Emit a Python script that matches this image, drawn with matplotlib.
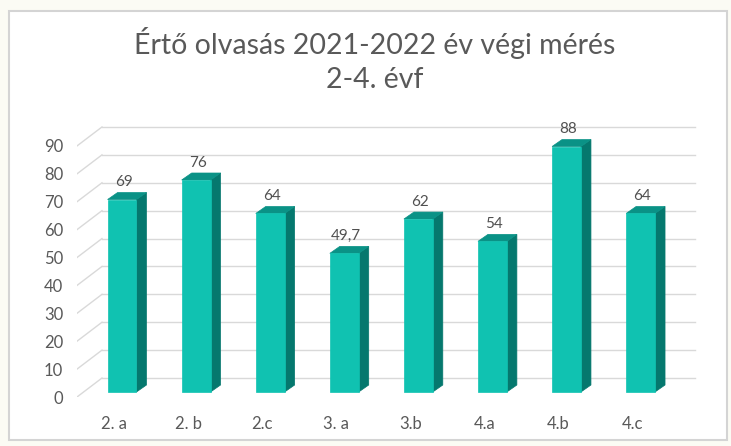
import matplotlib.pyplot as plt
from matplotlib.patches import Polygon, Rectangle

categories = ['2. a', '2. b', '2.c', '3. a', '3.b', '4.a', '4.b', '4.c']
values = [69, 76, 64, 49.7, 62, 54, 88, 64]
value_labels = ['69', '76', '64', '49,7', '62', '54', '88', '64']
yticks = [0, 10, 20, 30, 40, 50, 60, 70, 80, 90]

plt.rcParams['font.family'] = ['Lato', 'DejaVu Sans']

front = '#10c2b1'
side = '#05786e'
top = '#0a9286'
grid = '#d9d9d9'
text = '#595959'

# depth offsets (x in category units, y in value units)
wall_dx, wall_dy = 0.337, 6.8
bar_dx, bar_dy = 0.108, 1.8
depth_dx, depth_dy = 0.135, 2.5
bar_w = 0.39

fig = plt.figure(figsize=(7.31, 4.46), dpi=100)
fig.patch.set_facecolor('#fbfbf4')
fig.patches.append(Rectangle((9 / 731, 1 - 440 / 446), 718 / 731, 429 / 446,
                             transform=fig.transFigure, facecolor='white',
                             edgecolor='#d4d4d4', lw=1.5, zorder=-5))

ax = fig.add_axes([77 / 731, 49 / 446, 623 / 731, 277 / 446])
ax.set_xlim(-0.5, 7.91)
ax.set_ylim(0, 99.3)
ax.patch.set_alpha(0)
for s in ax.spines.values():
    s.set_visible(False)

n = len(categories)
x_left = -0.5
x_right = n - 0.5
for g in yticks:
    ax.plot([x_left + wall_dx, x_right + wall_dx], [g + wall_dy, g + wall_dy],
            color=grid, lw=1, zorder=1)
    ax.plot([x_left, x_left + wall_dx], [g, g + wall_dy], color=grid, lw=1, zorder=1)

for i, v in enumerate(values):
    x0 = i + bar_dx - bar_w / 2
    x1 = x0 + bar_w
    b = bar_dy
    ax.add_patch(Polygon([(x1, b), (x1 + depth_dx, b + depth_dy),
                          (x1 + depth_dx, b + v + depth_dy), (x1, b + v)],
                         closed=True, facecolor=side, edgecolor=side, lw=0.5, zorder=3))
    ax.add_patch(Polygon([(x0, b + v), (x1, b + v), (x1 + depth_dx, b + v + depth_dy),
                          (x0 + depth_dx, b + v + depth_dy)],
                         closed=True, facecolor=top, edgecolor=top, lw=0.5, zorder=3))
    ax.bar(x0, v, width=bar_w, bottom=b, align='edge', color=front,
           edgecolor=front, lw=0.5, zorder=4)
    ax.text(i + bar_dx + 0.02, b + v + depth_dy + 1.2, value_labels[i], ha='center',
            va='bottom', fontsize=11, color='#505050', zorder=5)

ax.set_xticks(range(n))
ax.set_xticklabels(categories)
ax.set_yticks(yticks)
ax.tick_params(axis='both', length=0, labelsize=12, colors=text)
ax.tick_params(axis='x', pad=14)
ax.tick_params(axis='y', pad=10)

fig.text(374.5 / 731, 1 - 54 / 446, 'Értő olvasás 2021-2022 év végi mérés', ha='center',
         va='baseline', fontsize=20.5, color=text)
fig.text(374.5 / 731, 1 - 88 / 446, '2-4. évf', ha='center', va='baseline',
         fontsize=20.5, color=text)

fig.savefig('out.png', dpi=100, facecolor=fig.get_facecolor())
